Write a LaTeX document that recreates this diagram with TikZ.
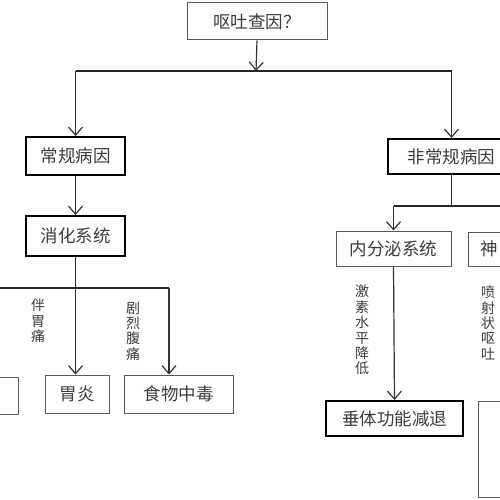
\documentclass[tikz,border=0pt]{standalone}
\usepackage{fontspec}
\newfontfamily\cjk{Noto Sans CJK SC}
\usetikzlibrary{arrows.meta}
\definecolor{txt}{HTML}{3C3C3C}
\definecolor{boxgray}{HTML}{5A5A5A}
\tikzset{
  box/.style={draw=boxgray, line width=1pt, inner sep=0pt, text=txt,
    font=\cjk\fontsize{17.5}{17.5}\selectfont},
  boldbox/.style={box, draw=black, line width=2pt},
  vlabel/.style={inner sep=0pt, text=txt, align=center,
    font=\cjk\fontsize{14}{15.4}\selectfont},
  trunk/.style={draw=black!85, line width=1.8pt},
  arr/.style={draw=black!80, line width=1.2pt,
    -{Straight Barb[length=8pt,width=14pt,line width=1.2pt]}}
}
\begin{document}
\begin{tikzpicture}[x=1pt,y=-1pt]
\useasboundingbox (0,0) rectangle (500,500);
\clip (0,0) rectangle (500,500);
% boxes
\node[box, minimum width=140, minimum height=37] (top) at (257,21.5) {呕吐查因？};
\node[boldbox, minimum width=99, minimum height=38] (reg) at (75.5,156) {常规病因};
\node[boldbox, minimum width=99, minimum height=40] (dig) at (75.5,236) {消化系统};
\node[box, minimum width=40, minimum height=37] (lp) at (-2,395.5) {};
\node[box, minimum width=64, minimum height=38] (wy) at (77,394) {胃炎};
\node[box, minimum width=109, minimum height=38] (sw) at (178.5,394) {食物中毒};
\node[boldbox, minimum width=127, minimum height=35] (irr) at (451.5,156.5) {非常规病因};
\node[box, minimum width=115, minimum height=35] (endo) at (393.5,248.5) {内分泌系统};
\node[box, minimum width=80, minimum height=34, anchor=west] (nerv) at (468,249) {};
\node[inner sep=0pt, text=txt, font=\cjk\fontsize{17.5}{17.5}\selectfont] (nervt) at (489.5,249) {神};
\node[boldbox, minimum width=137, minimum height=35] (cz) at (394.5,418.5) {垂体功能减退};
\node[box, minimum width=70, minimum height=96, anchor=north west] (rp) at (478,401) {};
% junction coordinates
\coordinate (j1) at (256,71);
\coordinate (j2) at (75.5,288);
\coordinate (j3) at (451.5,206);
\coordinate (swin) at ([xshift=-9.5pt]sw.north);
% top split
\draw[arr] (top.south) -- (j1);
\draw[trunk] (reg.north |- j1) -- (irr.north |- j1);
\draw[arr] (reg.north |- j1) -- (reg.north);
\draw[arr] (irr.north |- j1) -- (irr.north);
% regular branch
\draw[arr] (reg.south) -- (dig.north);
\draw[trunk] (dig.south) -- (j2);
\draw[trunk] (lp.north |- j2) -- (swin |- j2);
\draw[arr] (j2) -- (wy.north -| j2);
\draw[arr] (swin |- j2) -- (swin);
% irregular branch
\draw[trunk] (irr.south) -- (j3);
\draw[trunk] (endo.north |- j3) -- (nerv.north |- j3);
\draw[arr] (endo.north |- j3) -- (endo.north);
\draw[arr] (nerv.north |- j3) -- (nerv.north);
\draw[arr] (endo.south) -- (cz.north);
% labels
\node[vlabel] (l1) at (38,321) {伴\\胃\\痛};
\node[vlabel] (l2) at (133,331) {剧\\烈\\腹\\痛};
\node[vlabel] (l3) at (362,330) {激\\素\\水\\平\\降\\低};
\node[vlabel] (l4) at (488,323) {喷\\射\\状\\呕\\吐};
\end{tikzpicture}
\end{document}
